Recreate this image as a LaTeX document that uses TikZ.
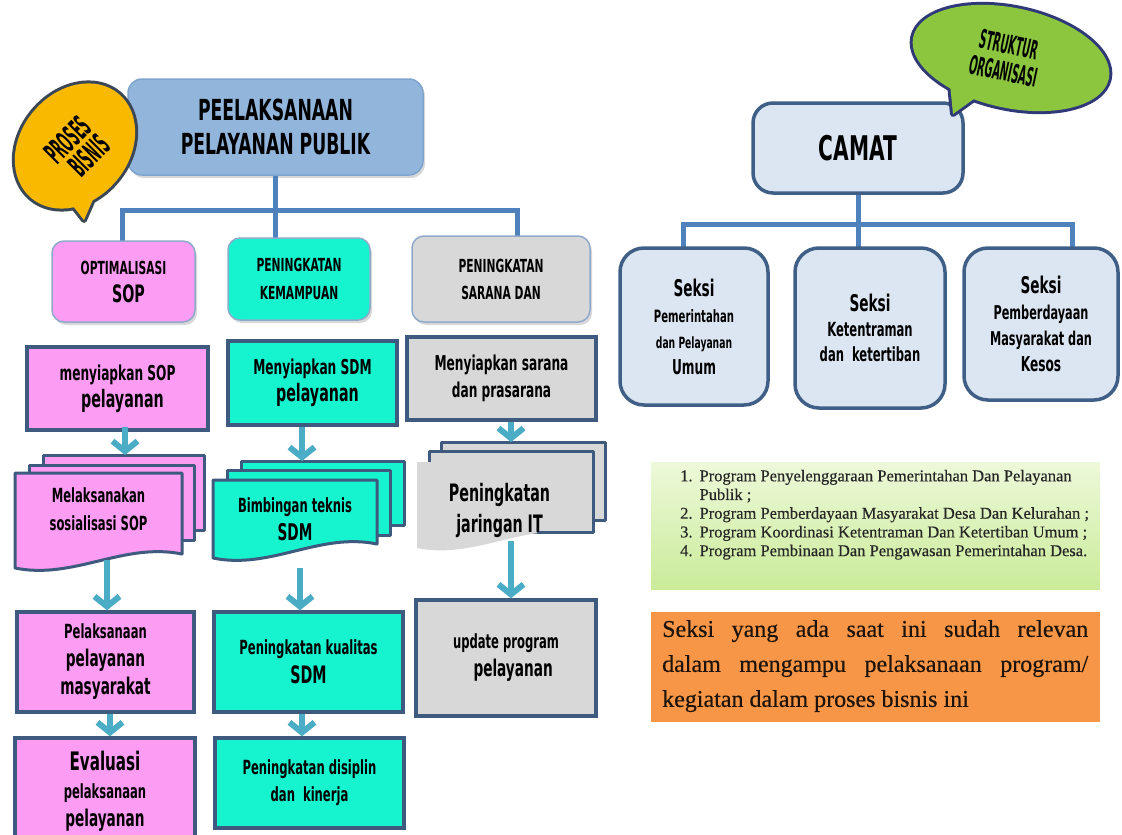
\documentclass[tikz,border=0pt]{standalone}
\usepackage{fontspec}
\newfontfamily\cfont[FakeStretch=0.66]{DejaVu Sans Condensed Bold}
\newfontfamily\tfont[FakeStretch=0.42]{DejaVu Sans Condensed Bold}
\newfontfamily\sfont[FakeBold=0.4]{Liberation Serif}
\usetikzlibrary{arrows.meta,shadows,calc}
\definecolor{pinkF}{HTML}{FC9CF3}
\definecolor{tealF}{HTML}{16F3CF}
\definecolor{grayF}{HTML}{D8D8D8}
\definecolor{darkB}{HTML}{3E5A7E}
\definecolor{softB}{HTML}{8FAACB}
\definecolor{mainF}{HTML}{92B5DB}
\definecolor{mainB}{HTML}{7EA5CE}
\definecolor{connC}{HTML}{4F81BD}
\definecolor{arrC}{HTML}{4BACC6}
\definecolor{seksiF}{HTML}{DCE6F2}
\definecolor{seksiB}{HTML}{3F5F86}
\definecolor{orangeF}{HTML}{F79646}
\definecolor{greenT}{HTML}{EEF9DB}
\definecolor{greenB}{HTML}{C9EB98}
\definecolor{yelF}{HTML}{F9B900}
\definecolor{bubB}{HTML}{3B4756}
\definecolor{limeF}{HTML}{8CC63F}
\newcommand\fz[1]{\fontsize{#1}{#1}\selectfont}
\newcommand\docshape[5]{%
  \path[#1] ({#2},{#3}) -- ({#4},{#3}) -- ({#4},{#5-14})
    .. controls ({#4-0.35*(#4-#2)},{#5-26}) and ({#2+0.35*(#4-#2)},{#5+12}) .. ({#2},{#5}) -- cycle;}
\begin{document}
\begin{tikzpicture}[x=1pt,y=-1pt,
  lbl/.style={font=\cfont\fontsize{16}{#1}\selectfont, align=center, inner sep=0pt, text=black},
  lbl/.default=27,
  topbox/.style={lbl=#1, rounded corners=12pt, draw=softB, line width=1.5pt,
     drop shadow={opacity=0.3,shadow xshift=2pt,shadow yshift=-3pt}},
  topbox/.default=28,
  sqbox/.style={lbl=#1, draw=darkB, line width=3.5pt},
  sqbox/.default=28,
  seksi/.style={lbl=#1, rounded corners=24pt, draw=seksiB, line width=3.5pt, fill=seksiF},
  seksi/.default=26,
  conn/.style={draw=connC, line width=5pt},
  arr/.style={draw=arrC, line width=6pt, -{Straight Barb[length=10pt,width=25pt]}},
  docpart/.style={fill=#1, draw=darkB, line width=3pt, line join=round},
  docplain/.style={fill=#1},
  panel/.style={draw=white, line width=7pt, inner sep=0pt,
     drop shadow={opacity=0.35,shadow xshift=2pt,shadow yshift=-3pt}},
  anchorbox/.style={inner sep=0pt, outer sep=0pt},
]
\useasboundingbox (0,0) rectangle (1122,835);
\fill[white] (0,0) rectangle (1122,835);
\clip (0,0) rectangle (1122,835);

% ---------------- left: process ----------------
\coordinate (busL) at (122,210);
\coordinate (busR) at (517,210);
\node[lbl, rounded corners=14pt, fill=mainF, draw=mainB, line width=1.5pt,
      drop shadow={opacity=0.3,shadow xshift=2pt,shadow yshift=-3pt},
      minimum width=295pt, minimum height=96pt,
      font=\cfont\fontsize{29}{34}\selectfont] (main) at (275.5,127)
      {PEELAKSANAAN\\PELAYANAN PUBLIK};
\draw[conn] (main.south) -- (main.south |- 0,240);
\draw[conn, line join=miter] (busL |- 0,242) -- (busL) -- (busR) -- (busR |- 0,238);

\node[topbox, fill=pinkF, minimum width=143pt, minimum height=81pt] (r1a) at (123.5,281.5)
  {{\fz{18}OPTIMALISASI}\\{\fz{24}\ \ SOP}};
\node[topbox, fill=tealF, minimum width=142pt, minimum height=82pt] (r1b) at (299,279)
  {{\fz{18}PENINGKATAN}\\{\fz{18}KEMAMPUAN}};
\node[topbox=27, fill=grayF, minimum width=178pt, minimum height=86pt] (r1c) at (501,279)
  {{\fz{18}PENINGKATAN}\\{\fz{18}SARANA DAN}};

\node[sqbox=27, fill=pinkF, minimum width=181pt, minimum height=83pt] (r2a) at (117.5,388.5)
  {{\fz{20.5}menyiapkan SOP}\\{\fz{24}\ \ pelayanan}};
\node[sqbox=27, fill=tealF, minimum width=169pt, minimum height=84pt] (r2b) at (312.5,383)
  {{\fz{20.5}Menyiapkan SDM}\\{\fz{24}\ \ pelayanan}};
\node[sqbox=27, fill=grayF, minimum width=189pt, minimum height=83pt] (r2c) at (501.5,378.5)
  {{\fz{20.5}Menyiapkan sarana}\\{\fz{20.5}dan prasarana}};

% documents
\path[docpart=pinkF] (43,455) rectangle (204,530);
\path[docpart=pinkF] (29,465) rectangle (194,540);
\docshape{docpart=pinkF}{15}{473}{182}{568}
\path[docpart=tealF] (241,461) rectangle (404,525);
\path[docpart=tealF] (227,470) rectangle (390,535);
\docshape{docpart=tealF}{213}{480}{377}{558}
\path[docpart=grayF] (441,442) rectangle (605,520);
\path[docpart=grayF] (429,451) rectangle (593,532);
\docshape{docplain=grayF}{417}{462}{582}{548}
\draw[darkB, line width=3pt] (537,532) -- (593,532);

\node[anchorbox, minimum width=167pt, minimum height=95pt] (d1) at (98.5,520.5) {};
\node[anchorbox, minimum width=164pt, minimum height=78pt] (d2) at (295,519) {};
\node[anchorbox, minimum width=165pt, minimum height=86pt] (d3) at (499.5,505) {};
\node[lbl=28] (d1t) at (98.5,509) {{\fz{19.5}Melaksanakan}\\{\fz{19.5}sosialisasi SOP}};
\node[lbl=28] (d2t) at (295,519) {{\fz{19.5}Bimbingan teknis}\\{\fz{23}SDM}};
\node[lbl=31] (d3t) at (499.5,510) {{\fz{24}Peningkatan}\\{\fz{24}jaringan IT}};

\node[sqbox=28, fill=pinkF, minimum width=177pt, minimum height=100pt] (r4a) at (105.5,662)
  {{\fz{19.5}Pelaksanaan}\\{\fz{23}pelayanan}\\{\fz{23}masyarakat}};
\node[sqbox=29, fill=tealF, minimum width=189pt, minimum height=100pt] (r4b) at (308.5,662)
  {{\fz{19.5}Peningkatan kualitas}\\{\fz{24}SDM}};
\node[sqbox=28, fill=grayF, minimum width=180pt, minimum height=116pt] (r4c) at (506,658)
  {{\fz{19.5}update program}\\{\fz{23}\ \ \ pelayanan}};

\node[sqbox=28, fill=pinkF, minimum width=180pt, minimum height=107pt] (r5a) at (105,791.5)
  {{\fz{25.5}Evaluasi}\\{\fz{19.5}pelaksanaan}\\{\fz{23}pelayanan}};
\node[sqbox=27, fill=tealF, minimum width=189pt, minimum height=90pt] (r5b) at (309.5,783)
  {{\fz{19.5}Peningkatan disiplin}\\{\fz{19.5}dan\ \ kinerja}};

% arrows
\draw[arr] ([xshift=7.5pt,yshift=5pt]r2a.south) -- ([xshift=26.5pt,yshift=18pt]d1.north);
\draw[arr] ([xshift=-10.5pt]r2b.south) -- ([xshift=7pt,yshift=19pt]d2.north);
\draw[arr] ([xshift=9.5pt]r2c.south) -- ([xshift=11.5pt,yshift=20pt]d3.north);
\draw[arr] ([xshift=8.5pt,yshift=8pt]d1.south) -- ([xshift=1.5pt]r4a.north);
\draw[arr] ([xshift=5pt,yshift=-10pt]d2.south) -- ([xshift=-8.5pt]r4b.north);
\draw[arr] ([xshift=11.5pt,yshift=7pt]d3.south) -- ([xshift=5pt]r4c.north);
\draw[arr] ([xshift=4.5pt]r4a.south) -- ([xshift=5pt]r5a.north);
\draw[arr] ([xshift=-6.5pt]r4b.south) -- ([xshift=-7.5pt]r5b.north);

% PROSES BISNIS bubble
\path[draw=bubB, line width=6pt, line join=round, rotate around={50:(75,146)}]
  (75,146) ellipse [x radius=68pt, y radius=54pt];
\path[draw=bubB, line width=6pt, line join=round] (62,192) -- (84,220) -- (98,188) -- cycle;
\path[fill=yelF, rotate around={50:(75,146)}] (75,146) ellipse [x radius=68pt, y radius=54pt];
\path[fill=yelF] (62,192) -- (84,220) -- (98,188) -- cycle;
\node[inner sep=0pt, rotate=45, align=center, font=\tfont\fontsize{30}{26}\selectfont] (pb) at (77,149)
  {PROSES\\\ \ BISNIS};

% ---------------- right: structure ----------------
\coordinate (bL) at (683,224);
\coordinate (bR) at (1072,224);
\node[seksi, rounded corners=20pt, minimum width=210pt, minimum height=90pt,
      font=\cfont\fontsize{34}{34}\selectfont] (camat) at (858,148) {CAMAT};
\draw[conn] (camat.south) -- (camat.south |- 0,250);
\draw[conn, line join=miter] (bL |- 0,250) -- (bL) -- (bR) -- (bR |- 0,250);
\node[seksi, minimum width=148pt, minimum height=157pt] (s1) at (694,326.5)
  {{\fz{23}Seksi}\\{\fz{17}Pemerintahan}\\{\fz{15.5}dan Pelayanan}\\{\fz{20.5}Umum}};
\node[seksi=25, minimum width=150pt, minimum height=160pt] (s2) at (870,328)
  {{\fz{23}Seksi}\\{\fz{19.5}Ketentraman}\\{\fz{19.5}dan\ \ ketertiban}};
\node[seksi, minimum width=154pt, minimum height=152pt] (s3) at (1041,324)
  {{\fz{23}Seksi}\\{\fz{19}Pemberdayaan}\\{\fz{19}Masyarakat dan}\\{\fz{20.5}Kesos}};

% STRUKTUR ORGANISASI bubble
\path[draw=bubB!80!blue, line width=6pt, line join=round, rotate around={-12:(1011,58)}]
  (1011,58) ellipse [x radius=100pt, y radius=50pt];
\path[draw=bubB!80!blue, line width=6pt, line join=round] (950,84) -- (953,114) -- (978,96) -- cycle;
\path[fill=limeF, rotate around={-12:(1011,58)}] (1011,58) ellipse [x radius=100pt, y radius=50pt];
\path[fill=limeF] (950,84) -- (953,114) -- (978,96) -- cycle;
\node[inner sep=0pt, rotate=-12, align=center, font=\tfont\fontsize{26}{27}\selectfont] (sb) at (1006,58)
  {STRUKTUR\\ORGANISASI};

% panels
\node[panel, top color=greenT, bottom color=greenB, minimum width=456pt, minimum height=135pt]
  (gpanel) at (875,525.5) {};
\node[anchor=north west, inner sep=0pt, font=\sfont\fontsize{16.5}{18.7}\selectfont, text=black!85]
  (prog) at (680,468) {\begin{tabular}{@{}r@{\hspace{7pt}}l@{}}
  1. & Program Penyelenggaraan Pemerintahan Dan Pelayanan\\
     & Publik ;\\
  2. & Program Pemberdayaan Masyarakat Desa Dan Kelurahan ;\\
  3. & Program Koordinasi Ketentraman Dan Ketertiban Umum ;\\
  4. & Program Pembinaan Dan Pengawasan Pemerintahan Desa.
  \end{tabular}};

\node[panel, fill=orangeF, minimum width=456pt, minimum height=117pt] (opanel) at (875,666.5) {};
\node[anchor=north west, inner sep=0pt, text width=426pt, align=justify,
      font=\sfont\fontsize{24}{35}\selectfont, text=black!85!brown] (note) at (662,620)
  {Seksi yang ada saat ini sudah relevan\linebreak
   dalam mengampu pelaksanaan program/\linebreak
   kegiatan dalam proses bisnis ini};
\end{tikzpicture}
\end{document}
